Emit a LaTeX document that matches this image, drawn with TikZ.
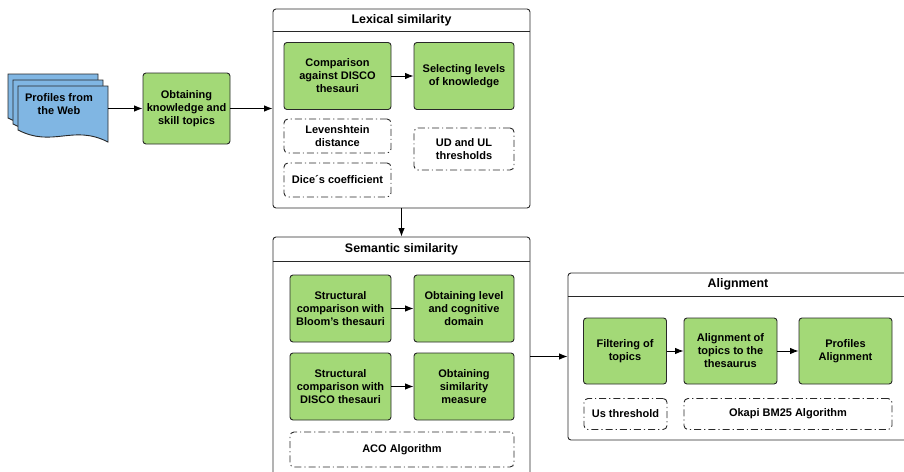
\documentclass[tikz,border=0pt]{standalone}
\usepackage{fontspec}
\setmainfont{Liberation Sans}
\usetikzlibrary{arrows.meta}
\definecolor{boxGreen}{RGB}{163,217,119}
\definecolor{docBlue}{RGB}{128,182,227}
\definecolor{lineGrey}{RGB}{40,40,40}
\newcommand{\webSheet}[2]{%
  % One sheet of the stacked document, wavy at the bottom.
  \begin{scope}[shift={(#1,#2)}]
    \draw[sheetStyle] (0,0) -- (90,0) -- (90,56)
      .. controls (55,38) and (35,62) .. (0,44) -- cycle;
  \end{scope}
}
\newcommand{\headerLine}[2]{%
  % Line under the title of a group box.
  \draw[groupStyle] ([yshift=-#2pt]#1.north west) -- ([yshift=-#2pt]#1.north east);
}
\begin{document}
\begin{tikzpicture}[%
  x=1pt,y=-1pt,%
  font=\fontsize{11}{13}\selectfont\bfseries,%
  boxSize/.style 2 args={minimum width=#1pt,minimum height=#2pt},%
  greenStyle/.style={draw=lineGrey,line width=0.9pt,rounded corners=3pt,fill=boxGreen,align=center,inner sep=2pt},%
  dashStyle/.style={draw=lineGrey,line width=0.9pt,rounded corners=4pt,dash pattern=on 7pt off 3pt on 1.2pt off 3pt,align=center,inner sep=2pt},%
  groupStyle/.style={draw=lineGrey,line width=0.9pt,rounded corners=3pt},%
  titleStyle/.style={font=\fontsize{12.4}{14}\selectfont\bfseries},%
  sheetStyle/.style={draw=lineGrey,line width=0.9pt,fill=docBlue},%
  arrowStyle/.style={-{Latex[length=8.5pt,width=6.5pt]},line width=0.9pt,draw=black}%
]
%
\useasboundingbox (0,0) rectangle (904,471);
\clip (0,0) rectangle (904,471);
%
% The stack of profiles.
\webSheet{8}{74}
\webSheet{13}{80}
\webSheet{18}{86}
\node[align=center] (profiles) at (59,104) {Profiles from\\the Web};
\coordinate (profilesEdge) at (108,108.5);
\node[greenStyle,boxSize={87}{71}] (obtaining) at (186.5,108.5) {Obtaining\\knowledge and\\skill topics};
%
% Lexical similarity.
\node[groupStyle,boxSize={257}{199}] (lexical) at (401.5,108.5) {};
\headerLine{lexical}{23}
\node[titleStyle] (lexicalTitle) at ([yshift=-11.5pt]lexical.north) {Lexical similarity};
\node[greenStyle,boxSize={107}{67}] (comparison) at (337.5,76) {Comparison\\against DISCO\\thesauri};
\node[greenStyle,boxSize={100}{67}] (selecting) at (464,76) {Selecting levels\\of knowledge};
\node[dashStyle,boxSize={107}{34}] (levenshtein) at (337.5,136) {Levenshtein\\distance};
\node[dashStyle,boxSize={107}{34}] (dice) at (337.5,180) {Dice´s coefficient};
\node[dashStyle,boxSize={100}{42}] (udul) at (464,149) {UD and UL\\thresholds};
%
% Semantic similarity.
\node[groupStyle,boxSize={257}{283}] (semantic) at (401.5,378.5) {};
\headerLine{semantic}{25}
\node[titleStyle] (semanticTitle) at ([yshift=-12.5pt]semantic.north) {Semantic similarity};
\node[greenStyle,boxSize={101}{67}] (bloomComp) at (340.5,308.5) {Structural\\comparison with\\Bloom's thesauri};
\node[greenStyle,boxSize={100}{67}] (levelDomain) at (464,308.5) {Obtaining level\\and cognitive\\domain};
\node[greenStyle,boxSize={101}{67}] (discoComp) at (340.5,386.5) {Structural\\comparison with\\DISCO thesauri};
\node[greenStyle,boxSize={100}{67}] (simMeasure) at (464,386.5) {Obtaining\\similarity\\measure};
\node[dashStyle,boxSize={224}{35}] (aco) at (402,449.5) {ACO Algorithm};
%
% Alignment.
\node[groupStyle,boxSize={340}{167}] (alignment) at (738,356.5) {};
\headerLine{alignment}{24}
\node[titleStyle] (alignmentTitle) at ([yshift=-12pt]alignment.north) {Alignment};
\node[greenStyle,boxSize={83}{66}] (filtering) at (625,351) {Filtering of\\topics};
\node[greenStyle,boxSize={93}{66}] (alignTopics) at (730.5,351) {Alignment of\\topics to the\\thesaurus};
\node[greenStyle,boxSize={93}{66}] (profAlign) at (845.5,351) {Profiles\\Alignment};
\node[dashStyle,boxSize={83}{31}] (usThreshold) at (625.5,414) {Us threshold};
\node[dashStyle,boxSize={208}{31}] (okapi) at (788,414) {Okapi BM25 Algorithm};
%
% Connectors.
\draw[arrowStyle] (profilesEdge) -- (obtaining);
\draw[arrowStyle] (obtaining) -- (lexical);
\draw[arrowStyle] (comparison) -- (selecting);
\draw[arrowStyle] (lexical) -- (semantic);
\draw[arrowStyle] (bloomComp) -- (levelDomain);
\draw[arrowStyle] (discoComp) -- (simMeasure);
\draw[arrowStyle] (semantic.east |- alignment.west) -- (alignment.west);
\draw[arrowStyle] (filtering) -- (alignTopics);
\draw[arrowStyle] (alignTopics) -- (profAlign);
\end{tikzpicture}
\end{document}
